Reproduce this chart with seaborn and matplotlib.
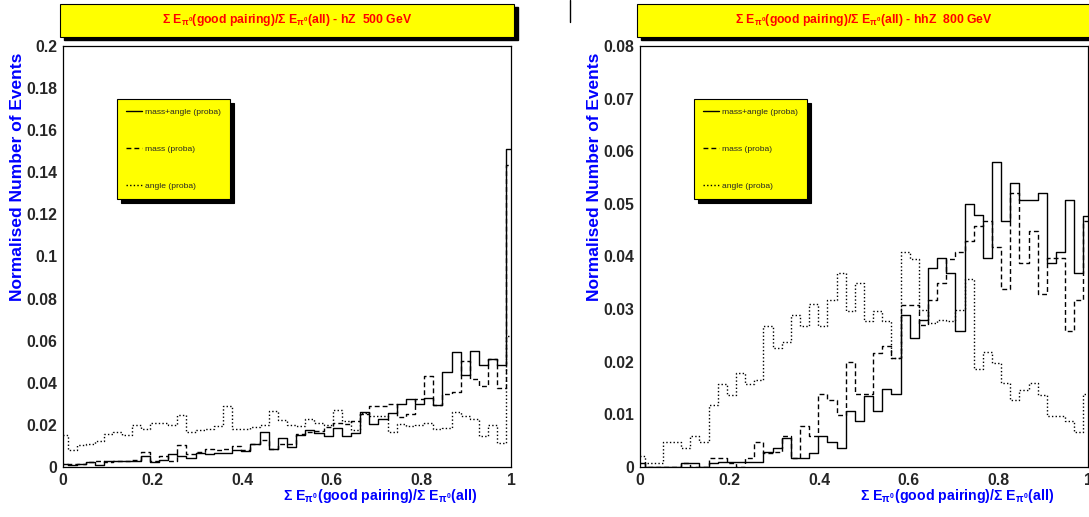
import numpy as np
import pandas as pd
import matplotlib
matplotlib.use("Agg")
import matplotlib.pyplot as plt
import seaborn as sns
from matplotlib.lines import Line2D
from matplotlib.patches import Rectangle
from matplotlib.ticker import MultipleLocator, FuncFormatter

# histogram binning: 50 bins from -0.01 to 1.01
n_bins = 50
x_min, x_max = -0.01, 1.01

# hZ 500 GeV
left_mass_angle = [0.0013, 0.0010, 0.0013, 0.0024, 0.0010, 0.0027, 0.0027, 0.0028, 0.0028, 0.0050,
                   0.0024, 0.0035, 0.0063, 0.0052, 0.0044, 0.0068, 0.0063, 0.0068, 0.0068, 0.0079,
                   0.0076, 0.0107, 0.0166, 0.0087, 0.0137, 0.0095, 0.0150, 0.0174, 0.0163, 0.0147,
                   0.0185, 0.0147, 0.0163, 0.0260, 0.0205, 0.0230, 0.0256, 0.0300, 0.0324, 0.0300,
                   0.0327, 0.0295, 0.0453, 0.0545, 0.0438, 0.0553, 0.0483, 0.0515, 0.0483, 0.1510]
left_mass = [0.0013, 0.0013, 0.0016, 0.0024, 0.0027, 0.0024, 0.0027, 0.0030, 0.0035, 0.0071,
             0.0030, 0.0050, 0.0030, 0.0103, 0.0063, 0.0070, 0.0085, 0.0080, 0.0087, 0.0098,
             0.0080, 0.0107, 0.0130, 0.0084, 0.0110, 0.0107, 0.0158, 0.0166, 0.0170, 0.0190,
             0.0210, 0.0205, 0.0220, 0.0250, 0.0290, 0.0290, 0.0300, 0.0237, 0.0250, 0.0324,
             0.0430, 0.0295, 0.0348, 0.0355, 0.0505, 0.0420, 0.0385, 0.0515, 0.0375, 0.1436]
left_angle = [0.0150, 0.0080, 0.0105, 0.0110, 0.0125, 0.0155, 0.0165, 0.0150, 0.0200, 0.0180,
              0.0210, 0.0210, 0.0200, 0.0245, 0.0166, 0.0175, 0.0180, 0.0195, 0.0290, 0.0180,
              0.0180, 0.0190, 0.0198, 0.0265, 0.0225, 0.0200, 0.0195, 0.0230, 0.0210, 0.0198,
              0.0270, 0.0220, 0.0174, 0.0256, 0.0240, 0.0240, 0.0166, 0.0205, 0.0194, 0.0200,
              0.0210, 0.0180, 0.0185, 0.0261, 0.0242, 0.0230, 0.0147, 0.0200, 0.0115, 0.0620]

# hhZ 800 GeV
right_mass_angle = [0.0008, 0.0, 0.0, 0.0, 0.0, 0.0008, 0.0008, 0.0, 0.0008, 0.0010,
                    0.0010, 0.0010, 0.0010, 0.0010, 0.0029, 0.0037, 0.0055, 0.0017, 0.0017, 0.0027,
                    0.0058, 0.0048, 0.0037, 0.0107, 0.0087, 0.0135, 0.0107, 0.0148, 0.0138, 0.0289,
                    0.0246, 0.0279, 0.0379, 0.0398, 0.0368, 0.0258, 0.0500, 0.0479, 0.0398, 0.0579,
                    0.0468, 0.0539, 0.0508, 0.0508, 0.0520, 0.0388, 0.0409, 0.0508, 0.0368, 0.0477]
right_mass = [0.0008, 0.0, 0.0, 0.0, 0.0, 0.0008, 0.0, 0.0, 0.0017, 0.0017,
              0.0008, 0.0, 0.0017, 0.0047, 0.0027, 0.0029, 0.0058, 0.0017, 0.0078, 0.0058,
              0.0138, 0.0128, 0.0099, 0.0199, 0.0138, 0.0138, 0.0216, 0.0229, 0.0208, 0.0308,
              0.0308, 0.0270, 0.0318, 0.0349, 0.0396, 0.0408, 0.0430, 0.0458, 0.0468, 0.0418,
              0.0338, 0.0520, 0.0388, 0.0449, 0.0329, 0.0398, 0.0398, 0.0258, 0.0318, 0.0468]
right_angle = [0.0020, 0.0008, 0.0008, 0.0047, 0.0047, 0.0037, 0.0058, 0.0047, 0.0118, 0.0157,
               0.0137, 0.0178, 0.0157, 0.0166, 0.0268, 0.0227, 0.0237, 0.0289, 0.0268, 0.0309,
               0.0268, 0.0318, 0.0368, 0.0297, 0.0349, 0.0278, 0.0297, 0.0278, 0.0208, 0.0409,
               0.0396, 0.0298, 0.0273, 0.0279, 0.0278, 0.0298, 0.0358, 0.0187, 0.0219, 0.0197,
               0.0159, 0.0128, 0.0147, 0.0159, 0.0137, 0.0097, 0.0096, 0.0088, 0.0067, 0.0138]

series_labels = ["mass+angle (proba)", "mass (proba)", "angle (proba)"]
series_styles = ["-", (0, (3.5, 2.2)), (0, (1, 1.6))]

titles = [r"Σ E$_{\pi^0}$(good pairing)/Σ E$_{\pi^0}$(all) - hZ  500 GeV",
          r"Σ E$_{\pi^0}$(good pairing)/Σ E$_{\pi^0}$(all) - hhZ  800 GeV"]
xlabel = r"Σ E$_{\pi^0}$(good pairing)/Σ E$_{\pi^0}$(all)"
ylabel = "Normalised Number of Events"

sns.set_style("white")
plt.rcParams["font.family"] = ["Liberation Sans", "DejaVu Sans"]
plt.rcParams["mathtext.fontset"] = "custom"
for key in ["rm", "it", "bf", "sf"]:
    plt.rcParams["mathtext." + key] = "Liberation Sans:bold"

edges = np.linspace(x_min, x_max, n_bins + 1)
centers = (edges[:-1] + edges[1:]) / 2

W, H = 1089, 517
fig = plt.figure(figsize=(W / 100, H / 100), dpi=100)
fig.patch.set_facecolor("white")

panels = [
    dict(left=63, data=[left_mass_angle, left_mass, left_angle], ymax=0.2, major=0.02, minor=0.005),
    dict(left=640, data=[right_mass_angle, right_mass, right_angle], ymax=0.08, major=0.01, minor=0.002),
]

for i, p in enumerate(panels):
    ax = fig.add_axes([p["left"] / W, 1 - 467 / H, 448 / W, 421 / H])
    for vals, ls in zip(p["data"], series_styles):
        df = pd.DataFrame({"x": centers, "w": vals})
        sns.histplot(data=df, x="x", weights="w", bins=list(edges), element="step",
                     fill=False, color="black", linestyle=ls, linewidth=1.0, ax=ax)
    ax.set_xlim(0, 1)
    ax.set_ylim(0, p["ymax"])
    ax.xaxis.set_major_locator(MultipleLocator(0.2))
    ax.xaxis.set_minor_locator(MultipleLocator(0.05))
    ax.yaxis.set_major_locator(MultipleLocator(p["major"]))
    ax.yaxis.set_minor_locator(MultipleLocator(p["minor"]))
    fmt = FuncFormatter(lambda v, pos: "%g" % round(v, 4))
    ax.xaxis.set_major_formatter(fmt)
    ax.yaxis.set_major_formatter(fmt)
    ax.tick_params(which="major", direction="in", length=8.6, width=0.9,
                   labelsize=11.4, pad=4, top=False, right=False, color="black")
    ax.tick_params(which="minor", direction="in", length=4.3, width=0.9,
                   top=False, right=False, color="black")
    for lab in ax.get_xticklabels() + ax.get_yticklabels():
        lab.set_fontweight("bold")
    for sp in ax.spines.values():
        sp.set_color("black")
        sp.set_linewidth(0.9)

    ax.set_xlabel(xlabel, color="#0000ff", fontsize=10.2, fontweight="bold", loc="right")
    ax.xaxis.set_label_coords(0.924, -0.048)
    ax.set_ylabel(ylabel, color="#0000ff", fontsize=12.5, fontweight="bold", loc="top")
    ax.yaxis.set_label_coords(-0.085, 0.985)

    handles = [Line2D([], [], color="black", linestyle=ls, linewidth=1.0) for ls in series_styles]
    leg = ax.legend(handles, series_labels, loc="upper left", bbox_to_anchor=(0.111, 0.884),
                    fontsize=6.1, frameon=True, fancybox=False, borderpad=1.1,
                    labelspacing=3.4, handlelength=1.8, handletextpad=0.4,
                    shadow={"color": "black", "alpha": 1.0, "ox": 3, "oy": -3})
    leg.get_frame().set_facecolor("#ffff00")
    leg.get_frame().set_edgecolor("black")
    leg.get_frame().set_linewidth(0.8)
    leg.get_frame().set_alpha(1.0)

    # title box with shadow
    bx = (p["left"] - 3) / W
    bw = 454 / W
    by = 1 - 36.5 / H
    bh = 33 / H
    fig.add_artist(Rectangle((bx + 4 / W, by - 4 / H), bw, bh, transform=fig.transFigure,
                             facecolor="black", edgecolor="black", zorder=1))
    fig.add_artist(Rectangle((bx, by), bw, bh, transform=fig.transFigure,
                             facecolor="#ffff00", edgecolor="black", linewidth=0.8, zorder=2))
    fig.text(bx + bw / 2, by + bh / 2, titles[i], ha="center", va="center",
             color="#ff0000", fontsize=8.8, fontweight="bold", zorder=3)

# small stray line at the top between the panels
fig.add_artist(Line2D([570 / W, 570 / W], [1, 1 - 22 / H], transform=fig.transFigure,
                      color="black", linewidth=1.0))

fig.savefig("out.png", dpi=100)
